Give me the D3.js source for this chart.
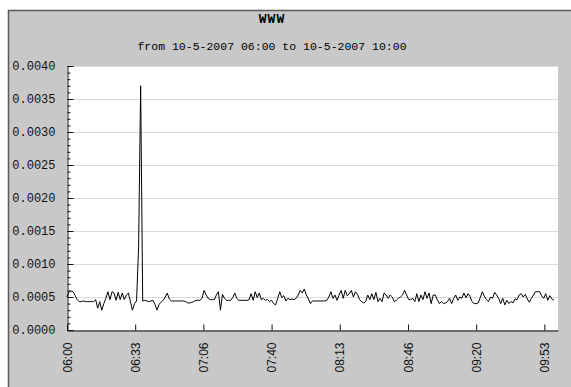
<!DOCTYPE html>
<html>
<head>
<meta charset="utf-8">
<script src="https://cdn.jsdelivr.net/npm/d3@7"></script>
<style>
  body { margin: 0; background: #fff; }
  svg { display: block; }
</style>
</head>
<body>
<script>
// chart texts
var chartTitle = "WWW";
var chartSubtitle = "from 10-5-2007 06:00 to 10-5-2007 10:00";
var startTime = "2007-05-10 06:00";
var endTime = "2007-05-10 10:00";

// one sample per minute from 06:00
var www = [
  0.00050, 0.00058, 0.00059, 0.00058, 0.00052, 0.00046, 0.00043, 0.00043, 0.00044, 0.00043,
  0.00043, 0.00043, 0.00043, 0.00043, 0.00046, 0.00033, 0.00043, 0.00030, 0.00040, 0.00048,
  0.00058, 0.00046, 0.00058, 0.00056, 0.00045, 0.00057, 0.00046, 0.00056, 0.00046, 0.00053,
  0.00056, 0.00043, 0.00030, 0.00040, 0.00044, 0.00126, 0.00370, 0.00044, 0.00045, 0.00044,
  0.00043, 0.00044, 0.00045, 0.00039, 0.00030, 0.00039, 0.00042, 0.00045, 0.00050, 0.00056,
  0.00047, 0.00044, 0.00044, 0.00044, 0.00044, 0.00044, 0.00044, 0.00044, 0.00043, 0.00041,
  0.00041, 0.00042, 0.00043, 0.00045, 0.00045, 0.00045, 0.00048, 0.00060, 0.00053, 0.00048,
  0.00046, 0.00046, 0.00046, 0.00053, 0.00058, 0.00030, 0.00054, 0.00048, 0.00045, 0.00045,
  0.00045, 0.00049, 0.00056, 0.00048, 0.00045, 0.00045, 0.00045, 0.00045, 0.00045, 0.00046,
  0.00055, 0.00045, 0.00058, 0.00049, 0.00056, 0.00046, 0.00048, 0.00045, 0.00046, 0.00043,
  0.00045, 0.00040, 0.00038, 0.00048, 0.00058, 0.00049, 0.00052, 0.00044, 0.00048, 0.00046,
  0.00047, 0.00046, 0.00048, 0.00053, 0.00060, 0.00056, 0.00062, 0.00053, 0.00047, 0.00040,
  0.00044, 0.00044, 0.00044, 0.00044, 0.00044, 0.00044, 0.00044, 0.00045, 0.00050, 0.00058,
  0.00048, 0.00053, 0.00045, 0.00053, 0.00060, 0.00048, 0.00060, 0.00052, 0.00055, 0.00060,
  0.00050, 0.00058, 0.00054, 0.00046, 0.00043, 0.00041, 0.00043, 0.00053, 0.00046, 0.00055,
  0.00046, 0.00057, 0.00043, 0.00048, 0.00043, 0.00056, 0.00053, 0.00048, 0.00053, 0.00050,
  0.00043, 0.00045, 0.00048, 0.00050, 0.00053, 0.00060, 0.00053, 0.00046, 0.00046, 0.00048,
  0.00043, 0.00055, 0.00043, 0.00053, 0.00046, 0.00058, 0.00048, 0.00056, 0.00040, 0.00053,
  0.00053, 0.00046, 0.00040, 0.00043, 0.00040, 0.00041, 0.00043, 0.00048, 0.00040, 0.00048,
  0.00053, 0.00045, 0.00050, 0.00048, 0.00056, 0.00049, 0.00055, 0.00051, 0.00043, 0.00040,
  0.00040, 0.00041, 0.00049, 0.00058, 0.00051, 0.00046, 0.00043, 0.00050, 0.00048, 0.00057,
  0.00053, 0.00048, 0.00040, 0.00048, 0.00038, 0.00045, 0.00040, 0.00043, 0.00041, 0.00047,
  0.00046, 0.00053, 0.00055, 0.00050, 0.00054, 0.00047, 0.00042, 0.00048, 0.00053, 0.00058,
  0.00058, 0.00058, 0.00052, 0.00048, 0.00055, 0.00045, 0.00052, 0.00047, 0.00045
];

var yMax = 0.004;
var yMajor = 0.0005;
var yMinor = 0.0001;
var xTickStepSec = 2000; // 06:00, 06:33, 07:06 ...

//Viz space
var W = 571, H = 387;
var plot = {left: 67, top: 66, right: 558, bottom: 330};

var svg = d3.select("body").append("svg")
  .attr("width", W)
  .attr("height", H);

// gray frame
svg.append("rect")
  .attr("x", 8.5).attr("y", 10.5)
  .attr("width", W).attr("height", H)
  .attr("fill", "#c8c8c8")
  .attr("stroke", "#5a5a5a")
  .attr("stroke-width", 1.5);

svg.append("text")
  .attr("x", 272).attr("y", 23)
  .attr("text-anchor", "middle")
  .style("font-family", "'Liberation Mono', monospace")
  .style("font-weight", "bold")
  .style("font-size", "13px")
  .style("letter-spacing", "1px")
  .text(chartTitle);

svg.append("text")
  .attr("x", 272).attr("y", 50)
  .attr("text-anchor", "middle")
  .style("font-family", "'Liberation Mono', monospace")
  .style("font-size", "11.5px")
  .text(chartSubtitle);

var parse = d3.timeParse("%Y-%m-%d %H:%M");
var t0 = parse(startTime), t1 = parse(endTime);

var xScale = d3.scaleTime().domain([t0, t1]).range([plot.left, plot.right]);
var yScale = d3.scaleLinear().domain([0, yMax]).range([plot.bottom, plot.top]);

svg.append("rect")
  .attr("x", plot.left).attr("y", plot.top)
  .attr("width", plot.right - plot.left)
  .attr("height", plot.bottom - plot.top)
  .attr("fill", "#fff");

// horizontal grid
var gridVals = d3.range(yMajor, yMax + 1e-9, yMajor);
svg.selectAll("line.grid").data(gridVals).enter()
  .append("line")
  .attr("class", "grid")
  .attr("x1", plot.left).attr("x2", plot.right)
  .attr("y1", function(d) { return Math.round(yScale(d)) + 0.5; })
  .attr("y2", function(d) { return Math.round(yScale(d)) + 0.5; })
  .attr("stroke", "#dadada");

// minor y ticks
svg.append("g")
  .attr("transform", "translate(" + (plot.left + 0.5) + ",0)")
  .call(d3.axisLeft(yScale).tickValues(d3.range(0, yMax + 1e-9, yMinor))
    .tickSizeInner(-3).tickSizeOuter(0).tickFormat(""))
  .call(function(g) { g.select(".domain").remove(); });

// major y ticks + labels
var yAxis = svg.append("g")
  .attr("transform", "translate(" + (plot.left + 0.5) + ",0)")
  .call(d3.axisLeft(yScale).tickValues(d3.range(0, yMax + 1e-9, yMajor))
    .tickSizeInner(-6).tickSizeOuter(0).tickPadding(12)
    .tickFormat(d3.format(".4f")));
yAxis.selectAll("text")
  .style("font-family", "'Liberation Mono', monospace")
  .style("font-size", "12px")
  .attr("fill", "#111");

// x axis
var xTicks = d3.range(0, 8).map(function(i) { return new Date(+t0 + i * xTickStepSec * 1000); });
var xAxis = svg.append("g")
  .attr("transform", "translate(0," + (plot.bottom + 0.5) + ")")
  .call(d3.axisBottom(xScale).tickValues(xTicks)
    .tickSizeInner(-6).tickSizeOuter(0)
    .tickFormat(d3.timeFormat("%H:%M")));
xAxis.selectAll("text")
  .attr("transform", "rotate(-90)")
  .attr("x", -12).attr("y", 0).attr("dy", "0.35em")
  .style("text-anchor", "end")
  .style("font-family", "'Liberation Sans', Arial, sans-serif")
  .style("font-size", "12px")
  .attr("fill", "#111");

svg.selectAll(".domain").attr("stroke", "#111");
svg.selectAll(".tick line").attr("stroke", "#111");

// data line
var line = d3.line()
  .x(function(d, i) { return xScale(new Date(+t0 + i * 60000)); })
  .y(function(d) { return yScale(d); });

svg.append("path")
  .datum(www)
  .attr("d", line)
  .attr("fill", "none")
  .attr("stroke", "#000")
  .attr("stroke-width", 1);
</script>
</body>
</html>
